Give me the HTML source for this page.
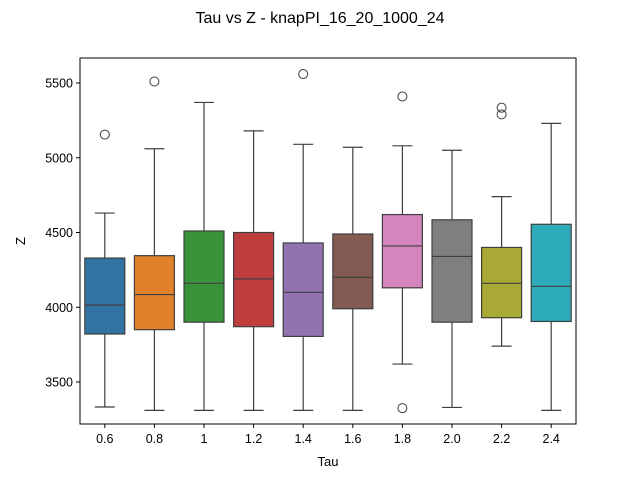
<!DOCTYPE html>
<html><head><meta charset="utf-8"><style>
body{margin:0;background:#fff;}
svg text{font-family:"Liberation Sans","DejaVu Sans",sans-serif;}
</style></head><body>
<svg id="chart" width="640" height="480" xmlns="http://www.w3.org/2000/svg">
<rect width="640" height="480" fill="#fff"/>
<text x="320" y="23" text-anchor="middle" font-size="16">Tau vs Z - knapPI_16_20_1000_24</text>
<g id="plot"></g>
<rect x="80" y="58" width="496" height="366" fill="none" stroke="#000" stroke-width="1"/>
<text x="328" y="466" text-anchor="middle" font-size="13">Tau</text>
<text x="25" y="241" text-anchor="middle" font-size="13" transform="rotate(-90 25 241)">Z</text>
</svg>
<script>
const categories=["0.6","0.8","1","1.2","1.4","1.6","1.8","2.0","2.2","2.4"];
const lows=[3333,3310,3310,3310,3310,3310,3620,3330,3740,3310];
const q1s=[3821,3850,3900,3870,3805,3990,4130,3900,3930,3905];
const medians=[4015,4085,4160,4190,4100,4200,4410,4340,4160,4140];
const q3s=[4329,4345,4510,4500,4430,4490,4620,4585,4400,4555];
const highs=[4630,5060,5370,5180,5090,5070,5080,5050,4740,5230];
const outliers=[[5155],[5510],[],[],[5560],[],[5410,3325],[],[5290,5335],[]];
const yTicks=[3500,4000,4500,5000,5500];
const colors=["#3274a1","#e1812c","#3a923a","#c03d3e","#9372b2","#845b53","#d684bd","#7f7f7f","#a9aa35","#2eabb8"];
const NS="http://www.w3.org/2000/svg";
const g=document.getElementById('plot');
function y(v){return 382-(v-3500)*0.1495;}
function x(i){return 80+496*(i+0.5)/categories.length;}
function mk(t,a,p){const e=document.createElementNS(NS,t);for(const k in a)e.setAttribute(k,a[k]);(p||g).appendChild(e);return e;}
const lc="#3f3f3f";
yTicks.forEach(v=>{
 const t=mk('line',{x1:76,x2:80,y1:y(v),y2:y(v),stroke:'#000'});
 
 
 const l=mk('text',{x:73,y:y(v)+4.5,'text-anchor':'end','font-size':12.5});
 l.textContent=v;
 
 
});
categories.forEach((c,i)=>{
 const cx=x(i),hw=20;
 const t=mk('line',{x1:cx,x2:cx,y1:424,y2:428,stroke:'#000'});
 
 
 const l=mk('text',{x:cx,y:443,'text-anchor':'middle','font-size':12.5});
 l.textContent=c;
 
 
 const bg=mk('g',{});
 
 
 mk('line',{x1:cx,x2:cx,y1:y(highs[i]),y2:y(q3s[i]),stroke:lc,'stroke-width':1.2},bg);
 mk('line',{x1:cx,x2:cx,y1:y(q1s[i]),y2:y(lows[i]),stroke:lc,'stroke-width':1.2},bg);
 mk('line',{x1:cx-hw/2,x2:cx+hw/2,y1:y(highs[i]),y2:y(highs[i]),stroke:lc,'stroke-width':1.2},bg);
 mk('line',{x1:cx-hw/2,x2:cx+hw/2,y1:y(lows[i]),y2:y(lows[i]),stroke:lc,'stroke-width':1.2},bg);
 mk('rect',{x:cx-hw,y:y(q3s[i]),width:2*hw,height:y(q1s[i])-y(q3s[i]),fill:colors[i],stroke:lc,'stroke-width':1.2},bg);
 mk('line',{x1:cx-hw,x2:cx+hw,y1:y(medians[i]),y2:y(medians[i]),stroke:lc,'stroke-width':1.2},bg);
 outliers[i].forEach(o=>{
  const p=mk('circle',{cx:cx,cy:y(o),r:4.5,fill:'none',stroke:lc,'stroke-width':1},bg);
  
  
 });
});
</script>
</body></html>
